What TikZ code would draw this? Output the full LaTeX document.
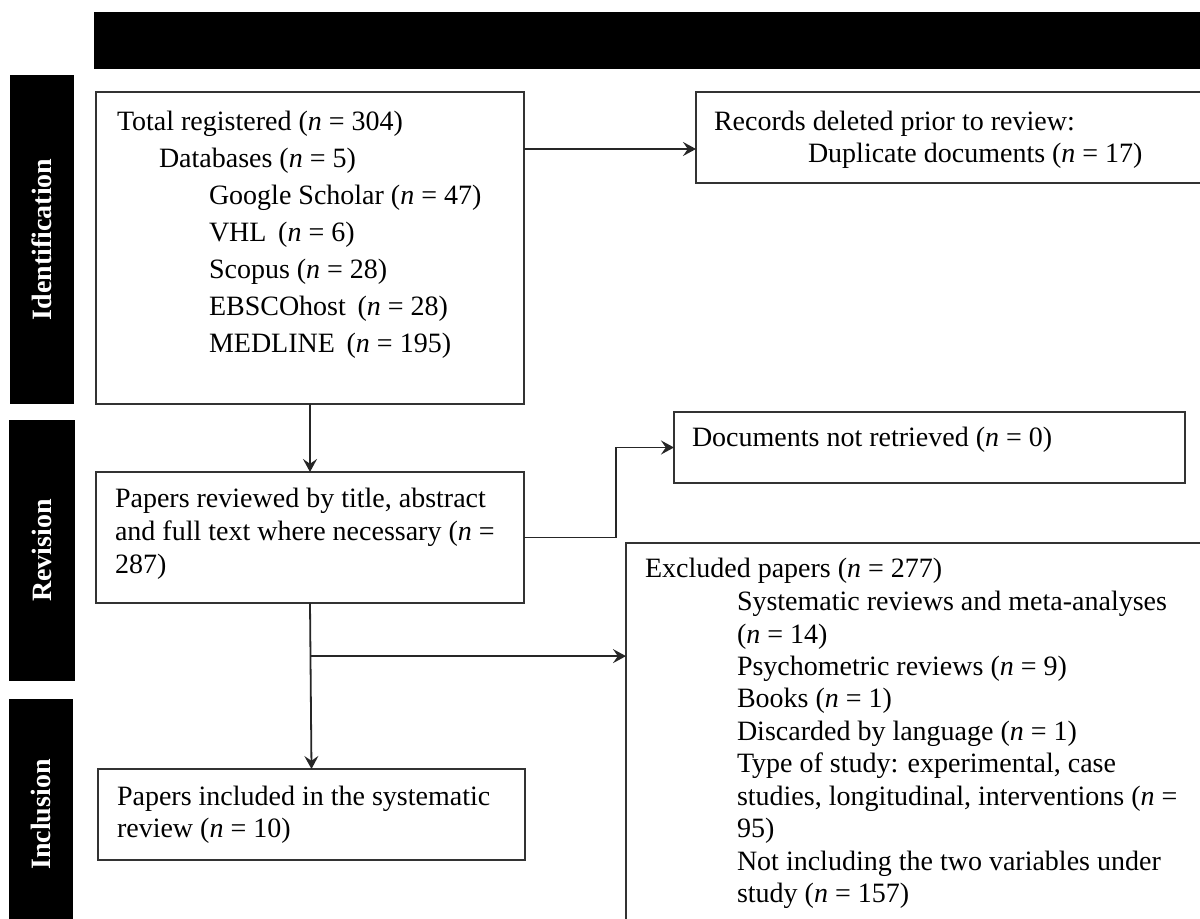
\documentclass[tikz,border=0pt]{standalone}
\usepackage{fontspec}
\setmainfont{Liberation Serif}
\usetikzlibrary{arrows.meta,calc}
\begin{document}
\begin{tikzpicture}[x=0.5pt,y=-0.5pt,
  box/.style={draw=black!80, line width=0.9pt, inner sep=0pt, outer sep=0pt, fill=white},
  sidebar/.style={fill=black, draw=none, inner sep=0pt, outer sep=0pt},
  barlabel/.style={text=white, font=\fontsize{14}{16}\selectfont\bfseries, rotate=90, inner sep=0pt},
  txt/.style={anchor=base west, inner sep=0pt, outer sep=0pt},
  conn/.style={draw=black!85, line width=0.9pt},
  arr/.style={conn, -{Stealth[length=6.5pt,width=7pt,inset=2.4pt]}},
]
\useasboundingbox (0,0) rectangle (1200,919);
\clip (0,0) rectangle (1200,919);
\fill[white] (0,0) rectangle (1200,919);

% black bars
\node[sidebar, minimum width=558pt, minimum height=28.5pt] (topbar) at (652,40.5) {};
\node[sidebar, minimum width=32.25pt, minimum height=164.5pt] (identbar) at (41.75,239.5) {};
\node[sidebar, minimum width=33pt, minimum height=130.5pt] (revbar) at (41.5,550.5) {};
\node[sidebar, minimum width=32.25pt, minimum height=115.5pt] (inclbar) at (40.75,814.5) {};
\node[barlabel] (identlab) at (identbar.center) {Identification};
\node[barlabel] (revlab) at (revbar.center) {Revision};
\node[barlabel] (incllab) at (inclbar.center) {Inclusion};

% boxes
\node[box, minimum width=214pt, minimum height=156pt] (reg) at (310,248) {};
\node[box, minimum width=257pt, minimum height=45.5pt] (rec) at (953,137.5) {};
\node[box, minimum width=214pt, minimum height=65.5pt] (rev) at (310,537.5) {};
\node[box, minimum width=255.5pt, minimum height=35.5pt] (doc) at (929.5,447.5) {};
\node[box, minimum width=292pt, minimum height=193.5pt] (exc) at (918,736.5) {};
\node[box, minimum width=213.5pt, minimum height=45.5pt] (inc) at (311.5,814.5) {};

% texts
\node[txt, font=\fontsize{14}{18.5}\selectfont] (regtxt) at (117,131) {\begin{tabular}[t]{@{}l@{}}
Total registered (\textit{n} = 304)\\
\hspace*{21pt}Databases (\textit{n} = 5)\\
\hspace*{46pt}Google Scholar (\textit{n} = 47)\\
\hspace*{46pt}VHL\ \,(\textit{n} = 6)\\
\hspace*{46pt}Scopus (\textit{n} = 28)\\
\hspace*{46pt}EBSCOhost\ \,(\textit{n} = 28)\\
\hspace*{46pt}MEDLINE\ \,(\textit{n} = 195)
\end{tabular}};

\node[txt, font=\fontsize{14}{16}\selectfont] (rectxt) at (714,131) {\begin{tabular}[t]{@{}l@{}}
Records deleted prior to review:\\
\hspace*{47pt}Duplicate documents (\textit{n} = 17)
\end{tabular}};

\node[txt, font=\fontsize{14}{16.5}\selectfont] (revtxt) at (115,508) {\begin{tabular}[t]{@{}l@{}}
Papers reviewed by title, abstract\\
and full text where necessary (\textit{n} =\\
287)
\end{tabular}};

\node[txt, font=\fontsize{14}{16}\selectfont] (doctxt) at (692,447) {Documents not retrieved (\textit{n} = 0)};

\node[txt, font=\fontsize{14}{16.25}\selectfont] (exctxt) at (645,578) {\begin{tabular}[t]{@{}l@{}}
Excluded papers (\textit{n} = 277)\\
\hspace*{46pt}Systematic reviews and meta-analyses\\
\hspace*{46pt}(\textit{n} = 14)\\
\hspace*{46pt}Psychometric reviews (\textit{n} = 9)\\
\hspace*{46pt}Books (\textit{n} = 1)\\
\hspace*{46pt}Discarded by language (\textit{n} = 1)\\
\hspace*{46pt}Type of study: experimental, case\\
\hspace*{46pt}studies, longitudinal, interventions (\textit{n} =\\
\hspace*{46pt}95)\\
\hspace*{46pt}Not including the two variables under\\
\hspace*{46pt}study (\textit{n} = 157)
\end{tabular}};

\node[txt, font=\fontsize{14}{16}\selectfont] (inctxt) at (117,805) {\begin{tabular}[t]{@{}l@{}}
Papers included in the systematic\\
review (\textit{n} = 10)
\end{tabular}};

% connectors
\draw[arr] ([yshift=-28.5pt]reg.north east) -- ([yshift=-28.5pt]rec.north west);
\draw[arr] (reg.south) -- (rev.north);
\draw[arr] (rev.east) -| ([xshift=-29pt]doc.west) -- (doc.west);
\draw[arr] (rev.south) -- (inc.north);
\coordinate (br) at ($(rev.south)!0.32!(inc.north)$);
\draw[arr] (br) -- (br -| exc.west);
\end{tikzpicture}
\end{document}
